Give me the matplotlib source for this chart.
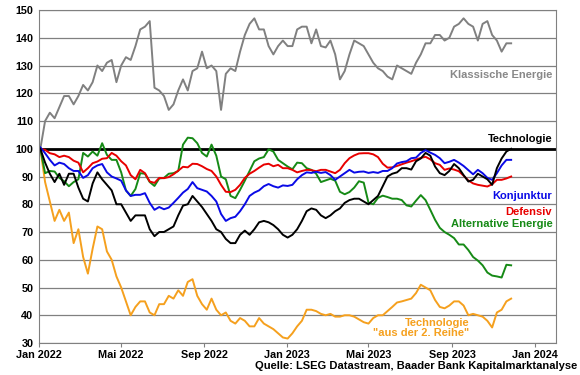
import pandas as pd
import numpy as np
import matplotlib
matplotlib.use('Agg')
import matplotlib.pyplot as plt
import matplotlib.dates as mdates

plt.rcParams['font.family'] = ['Liberation Sans', 'DejaVu Sans']
plt.rcParams['font.weight'] = 'bold'

# weekly index values (start = 100)
dates = pd.date_range('2022-01-03', periods=100, freq='7D')

klassische_energie = [
    100, 110, 113, 111, 115, 119, 119, 116, 119, 123,
    121, 124, 130, 128, 131, 132, 124, 130, 133, 132,
    137, 143, 144, 146, 122, 121, 119, 114, 116, 121,
    125, 121, 128, 129, 135, 129, 130, 128, 114, 127,
    129, 128, 135, 141, 145, 147, 143, 143, 137, 134,
    137, 139, 137, 137, 143, 144, 144, 138, 143, 137,
    136.5, 139, 134, 125, 128, 134, 139, 138, 137, 134,
    131, 129, 128, 126, 125, 130, 129, 128, 127, 131,
    134, 138, 138, 141, 141, 139, 140, 144, 145, 147,
    145, 144, 139, 145, 146, 141, 139, 135, 138, 138]

technologie = [
    100, 95, 91, 88, 91, 87, 91, 91, 86, 82,
    81, 87.5, 91.5, 89, 87, 85, 80, 80, 77, 74,
    76, 76, 76, 71, 68.5, 70, 70, 71, 72, 76,
    79.5, 80, 83, 81, 79, 76.5, 74, 71, 70, 67.5,
    66, 66, 69, 70.5, 69, 71, 73.5, 74, 73.5, 72.5,
    71, 69, 68, 69, 71, 74, 77.5, 78.5, 78, 76,
    75, 76, 77.5, 78.5, 80.5, 81.5, 82, 82, 81, 80,
    81.5, 83, 86.5, 90, 91, 91.5, 93, 93, 92.5, 95.5,
    96.5, 98.5, 97.5, 93.6, 91.2, 90.5, 92, 94.5, 93, 90.5,
    88.2, 88.8, 91, 90, 89, 87, 93, 96.5, 99, 100]

konjunktur = [
    100.5, 98.4, 96, 94, 95, 94.5, 93, 92, 92, 89.5,
    90.5, 93, 94, 94.5, 91.5, 90, 89.3, 88.5, 85, 83,
    83.4, 83.4, 84, 80.5, 78, 79, 78.2, 78.8, 80.5, 82.3,
    84.2, 85.5, 88, 85.8, 85.2, 84.6, 83, 81, 76.5, 74,
    75, 75.5, 77.5, 80, 83, 84.2, 85, 86.5, 87.3, 86.5,
    86, 86.8, 86.6, 87, 89, 90.5, 91.5, 91.3, 91.7, 91.3,
    91.6, 90.5, 88.8, 90, 91.2, 92.4, 91.4, 91.7, 91.8, 91.3,
    91.6, 91.3, 92, 92, 93, 94.7, 95.2, 95.5, 96.6, 96.8,
    98.5, 99.5, 98.6, 97.8, 96.6, 94.8, 95.3, 96, 95, 93.8,
    92.3, 90.8, 92.4, 91.2, 89.5, 88.8, 91.2, 94, 96, 96]

defensiv = [
    100, 99.6, 98.4, 98, 97, 97.5, 97, 95.7, 95, 91.5,
    93, 94.8, 95.4, 96.4, 96.6, 98.5, 97.5, 95.5, 94, 90.5,
    89, 92.4, 91.2, 88.2, 87.7, 89.5, 89.4, 89.8, 90.8, 92.1,
    93.5, 93.3, 94.6, 94.5, 93.7, 92.7, 92, 90, 87, 84.5,
    84.4, 85.2, 87, 89.5, 91, 92, 93.2, 94.3, 94.6, 93.7,
    94.2, 93, 93, 92.4, 91.5, 92, 92.4, 92.3, 91.9, 92.4,
    92.4, 91.8, 91.2, 92.4, 94.8, 96.6, 97.6, 98.3, 98.4, 98.4,
    98, 97, 94.6, 93.2, 93.3, 93.8, 94.4, 95, 95.5, 96.1,
    96.7, 97.1, 96.2, 94.8, 94.2, 92.4, 92.9, 92.5, 91.9, 90.3,
    88.6, 87.5, 87, 86.7, 86.4, 87.2, 88.8, 88.8, 89.3, 90]

alternative_energie = [
    100, 91.2, 92, 91.8, 89.5, 88.3, 86.5, 88, 89, 98.5,
    97.2, 99, 97.5, 102, 97.8, 96, 96, 91.5, 85, 83,
    85.5, 91.2, 91, 88, 86.6, 89.3, 89.5, 91, 91.2, 92,
    101.5, 104, 103.8, 102, 98.5, 97.2, 101.5, 97.5, 90, 89,
    83, 82.2, 85.2, 88.5, 92, 95.5, 96.5, 97, 99.8, 99,
    96, 94.8, 93.6, 92.6, 95, 94.8, 93, 92.4, 91, 88,
    88.6, 89.2, 88.5, 84.5, 83.6, 84.4, 86, 88.3, 87.8, 80.6,
    80, 82.3, 83.1, 82.6, 82, 82, 81.5, 79.6, 79.2, 81.3,
    83.3, 81.5, 78, 74.4, 71.5, 70, 69, 67.8, 65.5, 65.5,
    63.5, 61, 59.7, 58, 55.4, 54.3, 54, 53.6, 58.2, 58]

technologie_2_reihe = [
    100, 88, 81, 74, 78, 74, 77, 66, 71, 61,
    55, 64, 72, 71, 63, 60, 54, 50, 45, 40,
    43, 45, 45, 41, 40, 44, 44, 47, 46, 49,
    47, 52, 53, 47, 44, 42, 46, 42, 40, 41,
    38, 37, 39, 38, 36, 36, 39, 37, 36, 35,
    33.5, 32, 31.6, 33.5, 36, 38, 42, 42, 41.5, 40.5,
    40, 40.5, 39.5, 39.5, 40, 40, 39.5, 38.5, 37.5, 37,
    39, 40, 40, 41.5, 43, 44.6, 45, 45.5, 46, 48,
    51, 50, 49, 45.5, 43, 42.5, 43.5, 45, 45, 43.5,
    40, 40.5, 40, 39.5, 38, 35.6, 41, 42, 45, 46]

tick_dates = pd.to_datetime(['2022-01-01', '2022-05-01', '2022-09-01', '2023-01-01',
                             '2023-05-01', '2023-09-01', '2024-01-01'])
tick_labels = ['Jan 2022', 'Mai 2022', 'Sep 2022', 'Jan 2023', 'Mai 2023', 'Sep 2023', 'Jan 2024']

fig = plt.figure(figsize=(5.8, 3.75), dpi=100)
ax = fig.add_axes([0.0672, 0.0853, 0.8914, 0.888])

ax.axhline(100, color='black', lw=2, zorder=1.5)
ax.plot(dates, technologie_2_reihe, color='#F5A01E', lw=1.4)
ax.plot(dates, klassische_energie, color='#808080', lw=1.4)
ax.plot(dates, alternative_energie, color='#168A16', lw=1.4)
ax.plot(dates, defensiv, color='#E80000', lw=1.4)
ax.plot(dates, konjunktur, color='#0A0AE6', lw=1.4)
ax.plot(dates, technologie, color='black', lw=1.4)

ax.set_xlim(pd.Timestamp('2022-01-01'), pd.Timestamp('2024-02-01'))
ax.set_ylim(30, 150)
ax.set_yticks(range(30, 151, 10))
ax.set_xticks(tick_dates)
ax.set_xticklabels(tick_labels)
ax.grid(axis='y', color='#808080', lw=0.9)
ax.set_axisbelow(True)
for s in ax.spines.values():
    s.set_color('#808080')
ax.tick_params(axis='x', length=3, color='#808080', labelsize=7.8, pad=2)
ax.tick_params(axis='y', length=0, labelsize=7.8, pad=4)

# labels
ax.text(0.993, 126.5, 'Klassische Energie', color='#888888', ha='right', va='center',
        fontsize=8, transform=ax.get_yaxis_transform())
ax.text(0.993, 103.5, 'Technologie', color='black', ha='right', va='center',
        fontsize=8, transform=ax.get_yaxis_transform())
ax.text(0.993, 82.8, 'Konjunktur', color='#0A0AE6', ha='right', va='center',
        fontsize=8, transform=ax.get_yaxis_transform())
ax.text(0.993, 77.2, 'Defensiv', color='#E80000', ha='right', va='center',
        fontsize=8, transform=ax.get_yaxis_transform())
ax.text(0.993, 72.8, 'Alternative Energie', color='#168A16', ha='right', va='center',
        fontsize=8, transform=ax.get_yaxis_transform())
ax.text(pd.Timestamp('2023-09-27'), 35.3, 'Technologie\n"aus der 2. Reihe"', color='#F5A01E',
        ha='right', va='center', multialignment='right', fontsize=8, linespacing=1.0)

fig.text(0.995, 0.025, 'Quelle: LSEG Datastream, Baader Bank Kapitalmarktanalyse',
         ha='right', va='center', fontsize=8)

fig.savefig('out.png', dpi=100)
